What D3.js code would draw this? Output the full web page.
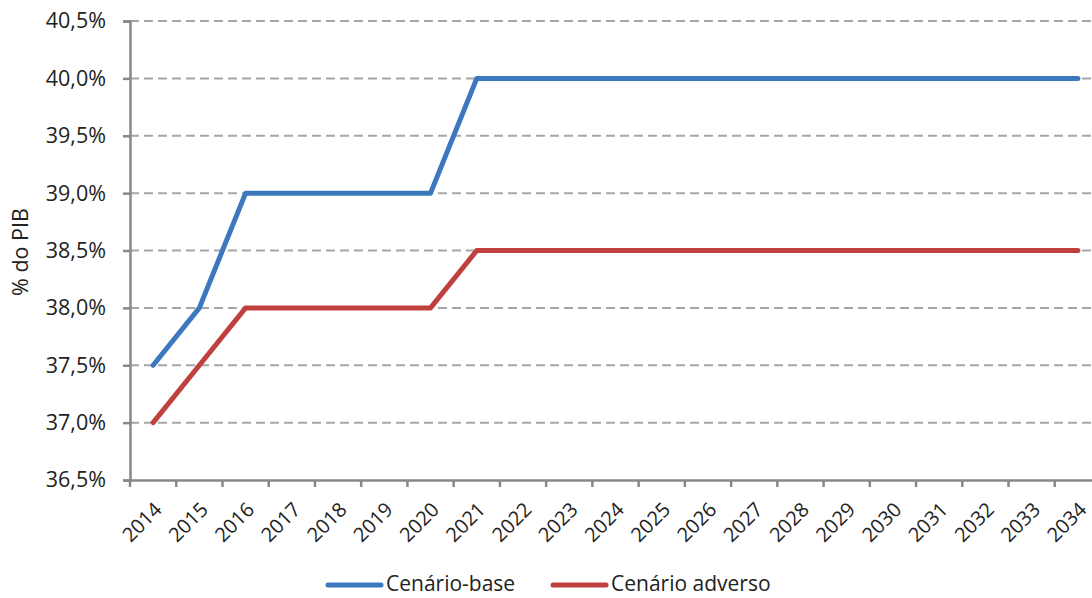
<!DOCTYPE html>
<html><head><meta charset="utf-8">
<script src="https://cdn.jsdelivr.net/npm/d3@7"></script>
<style>body{margin:0;background:#fff}svg{display:block}text{font-family:"Open Sans",sans-serif;fill:#222}</style>
</head><body><svg id="c" width="1092" height="598"></svg>
<script>
const years = ["2014","2015","2016","2017","2018","2019","2020","2021","2022","2023","2024","2025","2026","2027","2028","2029","2030","2031","2032","2033","2034"];
const base = [37.5,38.0,39.0,39.0,39.0,39.0,39.0,40.0,40.0,40.0,40.0,40.0,40.0,40.0,40.0,40.0,40.0,40.0,40.0,40.0,40.0];
const adverso = [37.0,37.5,38.0,38.0,38.0,38.0,38.0,38.5,38.5,38.5,38.5,38.5,38.5,38.5,38.5,38.5,38.5,38.5,38.5,38.5,38.5];
const yTicks = [36.5,37.0,37.5,38.0,38.5,39.0,39.5,40.0,40.5];
const seriesNames = ["Cenário-base","Cenário adverso"];
const colors = ["#3b78bd","#c0403d"];

const FS = 21.5;
const svg = d3.select("#c");
const x = d3.scaleBand().domain(years).range([130, 1101]).paddingInner(0).paddingOuter(0);
const y = d3.scaleLinear().domain([36.5, 40.5]).range([480, 21]);
const fmt = v => d3.format(".1f")(v).replace(".", ",") + "%";

// gridlines
svg.append("g").selectAll("line").data(yTicks.slice(1)).join("line")
  .attr("x1", 130).attr("x2", 1092).attr("y1", d => y(d)).attr("y2", d => y(d))
  .attr("stroke", "#a6a6a6").attr("stroke-width", 2).attr("stroke-dasharray", "9,5");

// y axis
const ya = svg.append("g").attr("transform", "translate(130,0)")
  .call(d3.axisLeft(y).tickValues(yTicks).tickFormat(fmt).tickSize(7).tickPadding(17));
ya.select(".domain").attr("stroke", "#888").attr("stroke-width", 2.5);
ya.selectAll(".tick line").attr("stroke", "#888").attr("stroke-width", 2.5);
ya.selectAll("text").attr("font-size", FS).attr("fill", "#222").attr("font-family", "Open Sans");

// x axis
const xa = svg.append("g").attr("transform", "translate(0,480)")
  .call(d3.axisBottom(x).tickSize(0).tickFormat(""));
xa.select(".domain").attr("stroke", "#888").attr("stroke-width", 2.5);
xa.selectAll(".tick").remove();
const bounds = years.map(d => x(d)).concat([x(years[years.length-1]) + x.bandwidth()]);
xa.selectAll("line.b").data(bounds).join("line").attr("class","b")
  .attr("x1", d => d).attr("x2", d => d).attr("y1", 0).attr("y2", 7)
  .attr("stroke", "#888").attr("stroke-width", 2.5);
svg.append("g").selectAll("text").data(years).join("text")
  .attr("transform", d => `translate(${x(d) + x.bandwidth()/2},${501}) rotate(-45)`)
  .attr("text-anchor", "end").attr("dy", "0.7em")
  .attr("font-size", 20).text(d => d);

// y label
svg.append("text").attr("transform", "translate(28,252) rotate(-90)")
  .attr("text-anchor", "middle").attr("font-size", FS).text("% do PIB");

// lines
const line = d3.line().x((d,i) => x(years[i]) + x.bandwidth()/2).y(d => y(d));
[base, adverso].forEach((s, k) => {
  svg.append("path").datum(s).attr("d", line).attr("fill", "none")
    .attr("stroke", colors[k]).attr("stroke-width", 5).attr("stroke-linecap", "round").attr("stroke-linejoin", "round");
});

// legend
const lx = [328, 553];
seriesNames.forEach((n, k) => {
  svg.append("line").attr("x1", lx[k]).attr("x2", lx[k] + 53).attr("y1", 585).attr("y2", 585)
    .attr("stroke", colors[k]).attr("stroke-width", 5).attr("stroke-linecap", "round");
  svg.append("text").attr("x", lx[k] + 58).attr("y", 591)
    .attr("font-size", 21).text(n);
});
</script></body></html>
